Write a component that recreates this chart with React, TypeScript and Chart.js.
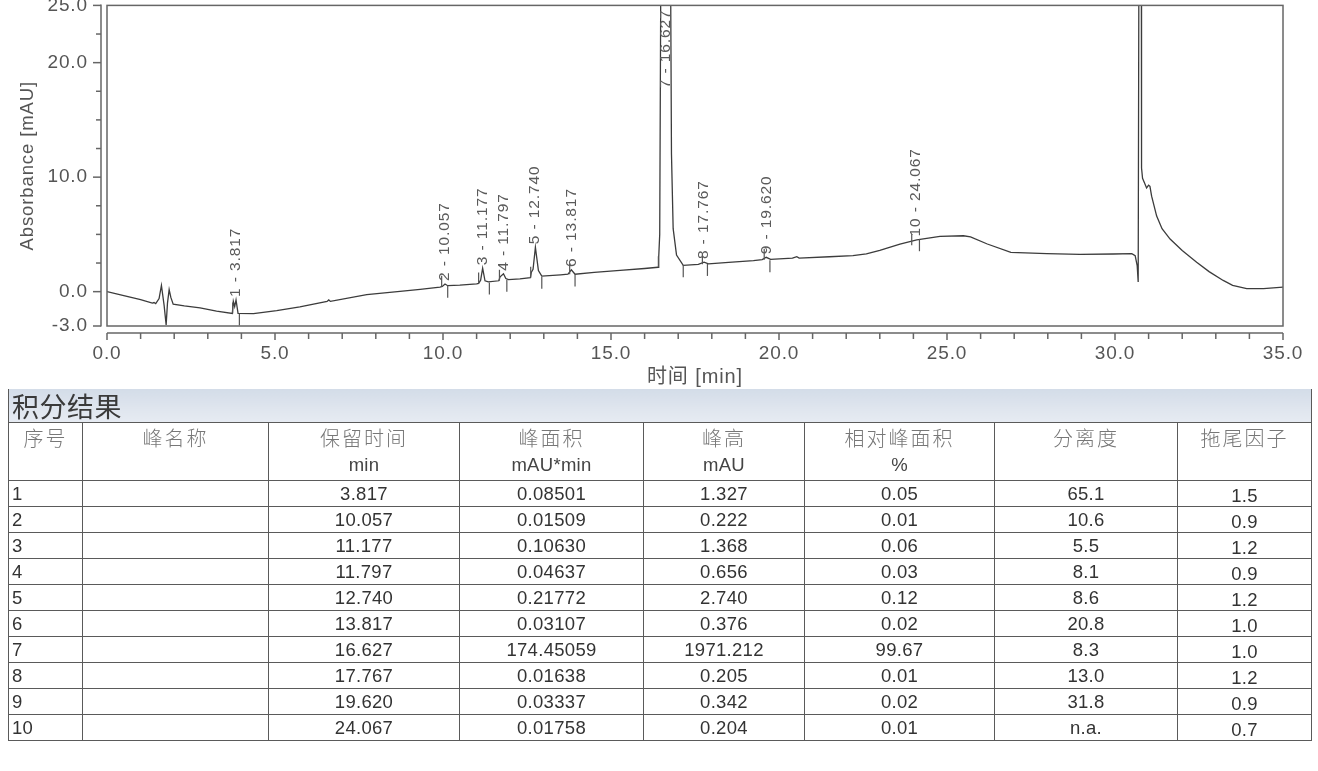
import React, { useEffect, useRef } from "react";
import { Chart, registerables } from "chart.js";

Chart.register(...registerables);

// ---- chromatogram trace (time in min, absorbance in mAU) ----
const curveT = [
  0.0, 0.5, 1.0, 1.35, 1.4, 1.45, 1.55, 1.62, 1.7, 1.76, 1.8, 1.85, 1.9, 1.97,
  2.3, 2.77, 3.26, 3.73, 3.76, 3.8, 3.84, 3.9, 4.36, 5.05, 5.74, 6.55, 6.6, 6.65,
  7.73, 8.72, 9.32, 9.91, 9.98, 10.06, 10.14, 10.5, 11.0, 11.06, 11.12, 11.18,
  11.25, 11.35, 11.66, 11.7, 11.8, 11.87, 11.95, 12.29, 12.6, 12.63, 12.68, 12.75,
  12.84, 12.94, 13.5, 13.72, 13.82, 13.93, 14.5, 15.27, 16.0, 16.4, 16.42, 16.45,
  16.5, 16.56, 16.627, 16.7, 16.77, 16.8, 16.85, 16.95, 17.15, 17.6, 17.77, 17.9,
  18.5, 19.24, 19.5, 19.62, 19.75, 20.4, 20.53, 20.6, 21.5, 22.2, 22.6, 23.0,
  23.6, 24.1, 24.79, 25.49, 25.7, 26.2, 26.9, 27.97, 28.96, 29.95, 30.5, 30.6,
  30.66, 30.69, 30.72, 30.75, 30.78, 30.79, 30.82, 30.87, 30.94, 31.0, 31.04,
  31.09, 31.24, 31.4, 31.64, 32.0, 32.43, 32.8, 33.22, 33.5, 33.92, 34.42, 35.0,
];
const curveV = [
  0.0, -0.35, -0.7, -1.0, -0.95, -1.05, -0.6, 0.55, -1.2, -2.9, -1.0, 0.17, -0.5, -1.1,
  -1.25, -1.42, -1.7, -1.9, -0.85, -1.3, -0.72, -1.9, -1.92, -1.65, -1.33, -0.85, -0.72, -0.85,
  -0.26, 0.03, 0.2, 0.4, 0.45, 0.67, 0.52, 0.57, 0.68, 0.72, 1.0, 2.05,
  0.95, 0.85, 0.95, 1.3, 1.56, 1.15, 1.05, 1.12, 1.22, 1.7, 1.95, 3.87,
  1.85, 1.35, 1.47, 1.52, 1.9, 1.52, 1.68, 1.85, 2.02, 2.13, 3.0, 5.0,
  40, 400, 1973, 400, 30, 12, 5.5, 3.2, 2.3, 2.38, 2.58, 2.42,
  2.55, 2.71, 2.8, 3.0, 2.82, 2.92, 3.05, 2.93, 3.05, 3.14, 3.29, 3.6,
  4.16, 4.53, 4.82, 4.88, 4.79, 4.16, 3.43, 3.32, 3.26, 3.29, 3.32, 3.14,
  2.28, 0.84, 40, 120, 40, 10.8, 9.9, 9.55, 9.06, 9.3, 9.2,
  8.34, 6.6, 5.5, 4.59, 3.6, 2.57, 1.75, 0.98, 0.55, 0.26, 0.26, 0.4,
];

// ---- peaks ----
const peakNo = [1, 2, 3, 4, 5, 6, 7, 8, 9, 10];
const peakRT = [3.817, 10.057, 11.177, 11.797, 12.74, 13.817, 16.627, 17.767, 19.62, 24.067];
const peakApexV = [-0.72, 0.67, 2.05, 1.56, 3.87, 1.9, 1973, 2.58, 3.0, 4.55];
const peakStartT = [3.74, 9.96, 11.06, 11.68, 12.61, 13.77, 16.41, 17.72, 19.56, 23.95];
const peakStartV = [-1.9, 0.42, 0.72, 0.95, 1.22, 1.52, 2.13, 2.4, 2.78, 4.05];
const peakEndT = [3.94, 10.14, 11.38, 11.9, 12.94, 13.93, 17.15, 17.87, 19.73, 24.18];
const peakEndV = [-1.9, 0.52, 0.8, 1.05, 1.3, 1.5, 2.3, 2.42, 2.74, 4.58];

// ---- table values ----
const peakArea = [0.08501, 0.01509, 0.1063, 0.04637, 0.21772, 0.03107, 174.45059, 0.01638, 0.03337, 0.01758];
const peakHeight = [1.327, 0.222, 1.368, 0.656, 2.74, 0.376, 1971.212, 0.205, 0.342, 0.204];
const relArea = [0.05, 0.01, 0.06, 0.03, 0.12, 0.02, 99.67, 0.01, 0.02, 0.01];
const resolution = ["65.1", "10.6", "5.5", "8.1", "8.6", "20.8", "8.3", "13.0", "31.8", "n.a."];
const tailing = [1.5, 0.9, 1.2, 0.9, 1.2, 1.0, 1.0, 1.2, 0.9, 0.7];

// ---- axes ----
const xTickValues = [0, 1, 2, 3, 4, 5, 6, 7, 8, 9, 10, 11, 12, 13, 14, 15, 16, 17, 18, 19, 20, 21, 22, 23, 24, 25, 26, 27, 28, 29, 30, 31, 32, 33, 34, 35];
const xLabelTicks = [0, 5, 10, 15, 20, 25, 30, 35];
const yTickValues = [-3, 0, 2.5, 5, 7.5, 10, 12.5, 15, 17.5, 20, 22.5, 25];
const yLabelTicks = [-3, 0, 10, 20, 25];

const headerNames = ["序号", "峰名称", "保留时间", "峰面积", "峰高", "相对峰面积", "分离度", "拖尾因子"];
const headerUnits = ["", "", "min", "mAU*min", "mAU", "%", "", ""];
const colWidths = [74, 186, 191, 184, 161, 190, 183, 134];

const FONT = "'Liberation Sans', Arial, sans-serif";
const AXIS_COLOR = "#666";
const TEXT_COLOR = "#555";

const spacingPlugin = {
  id: "spacing",
  beforeDraw(chart: any) {
    chart.ctx.letterSpacing = "0.9px";
  },
};

const framePlugin = {
  id: "frame",
  afterDraw(chart: any) {
    const { ctx, chartArea: a, scales } = chart;
    const xs = scales.x;
    const ys = scales.y;
    ctx.save();
    ctx.strokeStyle = AXIS_COLOR;
    ctx.lineWidth = 1.5;
    ctx.strokeRect(a.left, a.top, a.right - a.left, a.bottom - a.top);
    const ax = a.left - 6;
    ctx.beginPath();
    ctx.moveTo(ax, a.top - 1);
    ctx.lineTo(ax, a.bottom + 0.5);
    ctx.stroke();
    ys.ticks.forEach((t: any) => {
      const y = ys.getPixelForValue(t.value);
      const len = yLabelTicks.includes(t.value) ? 8 : 5;
      ctx.beginPath();
      ctx.moveTo(ax, y);
      ctx.lineTo(ax - len, y);
      ctx.stroke();
    });
    const ay = a.bottom + 7;
    ctx.beginPath();
    ctx.moveTo(a.left, ay);
    ctx.lineTo(a.right, ay);
    ctx.stroke();
    xs.ticks.forEach((t: any) => {
      const x = xs.getPixelForValue(t.value);
      const len = xLabelTicks.includes(t.value) ? 7 : 6;
      ctx.beginPath();
      ctx.moveTo(x, ay);
      ctx.lineTo(x, ay + len);
      ctx.stroke();
    });
    ctx.restore();
  },
};

const peakPlugin = {
  id: "peaks",
  afterDatasetsDraw(chart: any) {
    const { ctx, chartArea: a, scales } = chart;
    const xs = scales.x;
    const ys = scales.y;
    ctx.save();
    ctx.strokeStyle = "#555";
    ctx.lineWidth = 1.2;
    // peak start delimiters (up) and end delimiters (down)
    peakStartT.forEach((t, i) => {
      const x = xs.getPixelForValue(t);
      const y = ys.getPixelForValue(peakStartV[i]);
      ctx.beginPath();
      ctx.moveTo(x, y);
      ctx.lineTo(x, y - 11);
      ctx.stroke();
    });
    peakEndT.forEach((t, i) => {
      const x = xs.getPixelForValue(t);
      const y = ys.getPixelForValue(peakEndV[i]);
      ctx.beginPath();
      ctx.moveTo(x, y);
      ctx.lineTo(x, Math.min(y + 12, a.bottom));
      ctx.stroke();
    });
    // labels
    ctx.font = `15.5px ${FONT}`;
    ctx.letterSpacing = "0.9px";
    ctx.fillStyle = "#5a5a5a";
    ctx.textAlign = "left";
    ctx.textBaseline = "middle";
    peakRT.forEach((rt, i) => {
      const label = `${peakNo[i]} - ${rt.toFixed(3)}`;
      const w = ctx.measureText(label).width;
      const x = xs.getPixelForValue(rt);
      let y = ys.getPixelForValue(peakApexV[i]) - 3;
      y = Math.max(y, a.top + w + 4);
      ctx.save();
      ctx.translate(x, y);
      ctx.rotate(-Math.PI / 2);
      ctx.fillText(label, 0, 0);
      ctx.restore();
    });
    ctx.restore();
  },
};

function ChromChart() {
  const ref = useRef<HTMLCanvasElement | null>(null);
  useEffect(() => {
    if (!ref.current) return;
    const chart = new Chart(ref.current, {
      type: "line",
      data: {
        datasets: [
          {
            data: curveT.map((t, i) => ({ x: t, y: curveV[i] })),
            borderColor: "#3c3c3c",
            borderWidth: 1.3,
            pointRadius: 0,
            tension: 0,
            fill: false,
          },
        ],
      },
      options: {
        animation: false,
        responsive: true,
        maintainAspectRatio: false,
        layout: { padding: { left: 0, right: 35, top: 15, bottom: 0 } },
        plugins: { legend: { display: false }, tooltip: { enabled: false } },
        events: [],
        scales: {
          x: {
            type: "linear",
            min: 0,
            max: 35,
            afterBuildTicks: (s: any) => {
              s.ticks = xTickValues.map((v) => ({ value: v }));
            },
            afterFit: (s: any) => {
              s.height = 65;
            },
            ticks: {
              autoSkip: false,
              maxRotation: 0,
              padding: 2,
              color: TEXT_COLOR,
              font: { family: FONT, size: 19 },
              callback: (v: any) => (xLabelTicks.includes(Number(v)) ? Number(v).toFixed(1) : ""),
            },
            grid: { color: "rgba(0,0,0,0)", drawOnChartArea: false, drawTicks: true, tickLength: 14 },
            border: { display: false },
            title: {
              display: true,
              text: "时间 [min]",
              color: TEXT_COLOR,
              font: { family: "'Liberation Sans', 'Noto Sans CJK SC', sans-serif", size: 20 },
              padding: { top: 0, bottom: 2 },
            },
          },
          y: {
            type: "linear",
            min: -3,
            max: 25,
            afterBuildTicks: (s: any) => {
              s.ticks = yTickValues.map((v) => ({ value: v }));
            },
            afterFit: (s: any) => {
              s.width = 107;
            },
            ticks: {
              autoSkip: false,
              padding: 5,
              color: TEXT_COLOR,
              font: { family: FONT, size: 19 },
              callback: (v: any) => (yLabelTicks.includes(Number(v)) ? Number(v).toFixed(1) : ""),
            },
            grid: { color: "rgba(0,0,0,0)", drawOnChartArea: false, drawTicks: true, tickLength: 14 },
            border: { display: false },
            title: {
              display: true,
              text: "Absorbance [mAU]",
              color: TEXT_COLOR,
              font: { family: FONT, size: 18.5 },
              padding: { top: 17, bottom: 0 },
            },
          },
        },
      },
      plugins: [spacingPlugin, framePlugin, peakPlugin],
    } as any);
    return () => chart.destroy();
  }, []);
  return (
    <div style={{ position: "absolute", left: 0, top: -11, width: 1318, height: 402 }}>
      <canvas ref={ref} />
    </div>
  );
}

const cellBorder = "1.5px solid #5a5a5a";

function ResultTable() {
  const cjk = "'Noto Sans CJK SC', sans-serif";
  return (
    <table
      style={{
        position: "absolute",
        left: 8,
        top: 389,
        width: 1303,
        borderCollapse: "collapse",
        tableLayout: "fixed",
        fontFamily: FONT,
        color: "#333",
      }}
    >
      <colgroup>
        {colWidths.map((w, i) => (
          <col key={i} style={{ width: w }} />
        ))}
      </colgroup>
      <tbody>
        <tr style={{ height: 33 }}>
          <td
            colSpan={8}
            style={{
              background: "linear-gradient(180deg, #d3dce8 0%, #dfe5ee 60%, #e6ebf2 100%)",
              borderLeft: cellBorder,
              borderRight: cellBorder,
              borderBottom: cellBorder,
              fontFamily: cjk,
              fontSize: 27,
              letterSpacing: 0.5,
              color: "#3a3a3a",
              padding: "0 0 0 3px",
              lineHeight: "31px",
              verticalAlign: "middle",
            }}
          >
            积分结果
          </td>
        </tr>
        <tr style={{ height: 58 }}>
          {headerNames.map((h, i) => (
            <td
              key={i}
              style={{
                border: cellBorder,
                textAlign: "center",
                verticalAlign: "top",
                padding: "1px 0 0 0",
              }}
            >
              <div style={{ fontFamily: cjk, fontWeight: 300, fontSize: 20, color: "#777", lineHeight: "27px", letterSpacing: 2 }}>
                {h}
              </div>
              <div style={{ fontSize: 18.5, letterSpacing: 0.3, color: "#444", lineHeight: "27px", height: 27 }}>{headerUnits[i]}</div>
            </td>
          ))}
        </tr>
        {peakNo.map((n, r) => {
          const cells = [
            String(n),
            "",
            peakRT[r].toFixed(3),
            peakArea[r].toFixed(5),
            peakHeight[r].toFixed(3),
            relArea[r].toFixed(2),
            resolution[r],
            tailing[r].toFixed(1),
          ];
          return (
            <tr key={r} style={{ height: 26 }}>
              {cells.map((c, i) => (
                <td
                  key={i}
                  style={{
                    border: cellBorder,
                    textAlign: i === 0 ? "left" : "center",
                    padding: i === 0 ? "0 0 0 3px" : "0",
                    fontSize: 18.5,
                    letterSpacing: 0.3,
                    lineHeight: "21px",
                    verticalAlign: "middle",
                    color: "#333",
                  }}
                >
                  {i === 7 ? <span style={{ position: "relative", top: 2 }}>{c}</span> : c}
                </td>
              ))}
            </tr>
          );
        })}
      </tbody>
    </table>
  );
}

export default function App() {
  return (
    <div style={{ position: "absolute", left: 0, top: 0, width: 1318, height: 771, overflow: "hidden", background: "#fff" }}>
      <ChromChart />
      <ResultTable />
    </div>
  );
}
